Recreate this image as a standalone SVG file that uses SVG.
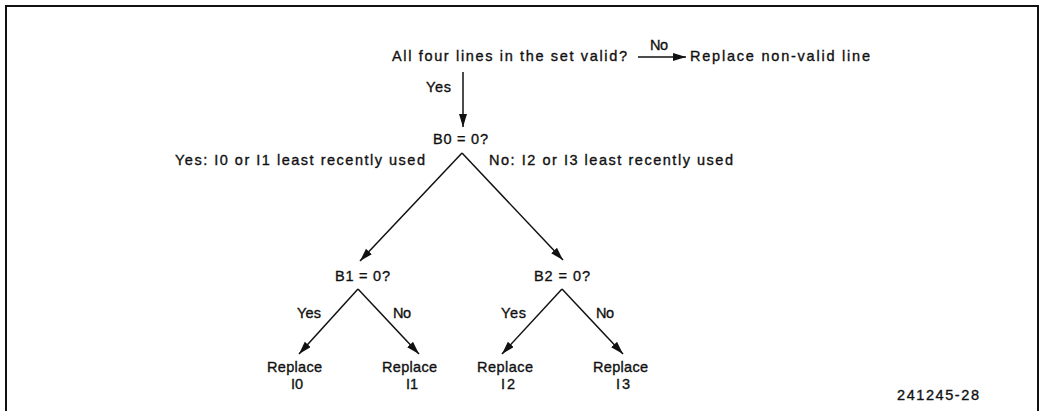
<svg xmlns="http://www.w3.org/2000/svg" width="1041" height="411" viewBox="0 0 1041 411">
<style>
text{font-family:"Liberation Sans",Arial,sans-serif;font-size:14.5px;fill:#111;stroke:#111;stroke-width:0.35}
.c{stroke:#111;stroke-width:1.5;fill:none;marker-end:url(#ah)}
</style>
<defs>
<marker id="ah" markerUnits="userSpaceOnUse" markerWidth="14" markerHeight="10" refX="13" refY="4" orient="auto">
<path d="M0,0 L13,4 L0,8 Z" fill="#111"/>
</marker>
</defs>
<rect x="6" y="6" width="1032" height="420" fill="none" stroke="#111" stroke-width="2"/>
<g id="connectors">
<line class="c" x1="638" y1="57" x2="686" y2="57"/>
<line class="c" x1="463" y1="72" x2="463" y2="127"/>
<line class="c" x1="462" y1="153" x2="360" y2="261"/>
<line class="c" x1="462" y1="153" x2="563" y2="260"/>
<line class="c" x1="358" y1="289" x2="299" y2="354"/>
<line class="c" x1="358" y1="289" x2="419" y2="354"/>
<line class="c" x1="562" y1="289" x2="502" y2="354"/>
<line class="c" x1="562" y1="289" x2="623" y2="354"/>
</g>
<g id="labels">
<text x="650" y="50" textLength="18">No</text>
<text x="426" y="92" textLength="25">Yes</text>
<text x="175" y="165" textLength="250">Yes: I0 or I1 least recently used</text>
<text x="489" y="165" textLength="244">No: I2 or I3 least recently used</text>
<text x="297" y="318" textLength="24">Yes</text>
<text x="393" y="318" textLength="18">No</text>
<text x="501" y="318" textLength="25">Yes</text>
<text x="596" y="318" textLength="18">No</text>
</g>
<g id="n-valid"><text x="392" y="61" textLength="235">All four lines in the set valid?</text></g>
<g id="n-replace-nonvalid"><text x="690" y="61" textLength="180">Replace non-valid line</text></g>
<g id="n-b0"><text x="433" y="144" textLength="55">B0 = 0?</text></g>
<g id="n-b1"><text x="335" y="281" textLength="55">B1 = 0?</text></g>
<g id="n-b2"><text x="534" y="281" textLength="56">B2 = 0?</text></g>
<g id="n-r0"><text x="267" y="372" textLength="55">Replace</text><text x="291" y="389" textLength="12">I0</text></g>
<g id="n-r1"><text x="382" y="372" textLength="55">Replace</text><text x="406" y="389" textLength="12">I1</text></g>
<g id="n-r2"><text x="477" y="372" textLength="56">Replace</text><text x="501" y="389" textLength="14">I2</text></g>
<g id="n-r3"><text x="593" y="372" textLength="55">Replace</text><text x="616" y="389" textLength="14">I3</text></g>
<g id="fig-id"><text x="897" y="400" textLength="82">241245-28</text></g>
</svg>
